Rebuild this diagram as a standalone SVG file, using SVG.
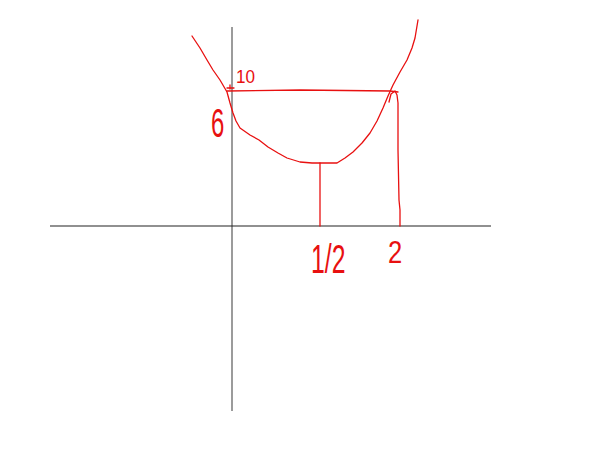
<svg xmlns="http://www.w3.org/2000/svg" width="600" height="450" viewBox="0 0 600 450">
<style>
.r{fill:none;stroke:#e81010;stroke-width:1.3;stroke-linejoin:round;stroke-linecap:round}
.t{fill:#e81010;font-family:"Liberation Sans",Arial,sans-serif}
</style>
<rect width="600" height="450" fill="#fff"/>
<g id="axes">
<line x1="232" y1="27" x2="232" y2="411" stroke="#7a7a7a" stroke-width="1.5"/>
<line x1="50" y1="226" x2="491" y2="226" stroke="#222" stroke-width="1.2"/>
</g>
<g id="curve">
<path class="r" d="M192,36 L200,48 L207,60 L213,70 L220,80 L227,92 L230,103 L233,113 L236,121 L240,128 L250,135 L259,140 L268,147 L278,153 L287,158 L300,162 L312,163 L337,163 L345,158 L353,152 L362,143 L370,133 L377,121 L383,108 L388,96 L393,85 L400,72 L407,60 L412,48 L415,38 L418,20"/>
</g>
<g id="connectors">
<path class="r" d="M227,91 L300,90 L390,91 L398,92"/>
<path class="r" d="M230,85 L230,89 M227,88 L234,88"/>
<path class="r" d="M389,102 L391,94 L395,91 L397,95 L398,103 L398,150 L399,200 L400,210 L400,226"/>
<line class="r" x1="320" y1="163" x2="320" y2="226"/>
</g>
<g id="labels">
<text class="t" x="236" y="83" font-size="19" transform="translate(236 83) scale(0.9 1) translate(-236 -83)">10</text>
<text class="t" x="211" y="137" font-size="40" transform="translate(211 137) scale(0.6 1) translate(-211 -137)">6</text>
<text class="t" x="311" y="273" font-size="40" transform="translate(311 273) scale(0.62 1) translate(-311 -273)">1/2</text>
<text class="t" x="388" y="263" font-size="32" transform="translate(388 263) scale(0.8 1) translate(-388 -263)">2</text>
</g>
</svg>
